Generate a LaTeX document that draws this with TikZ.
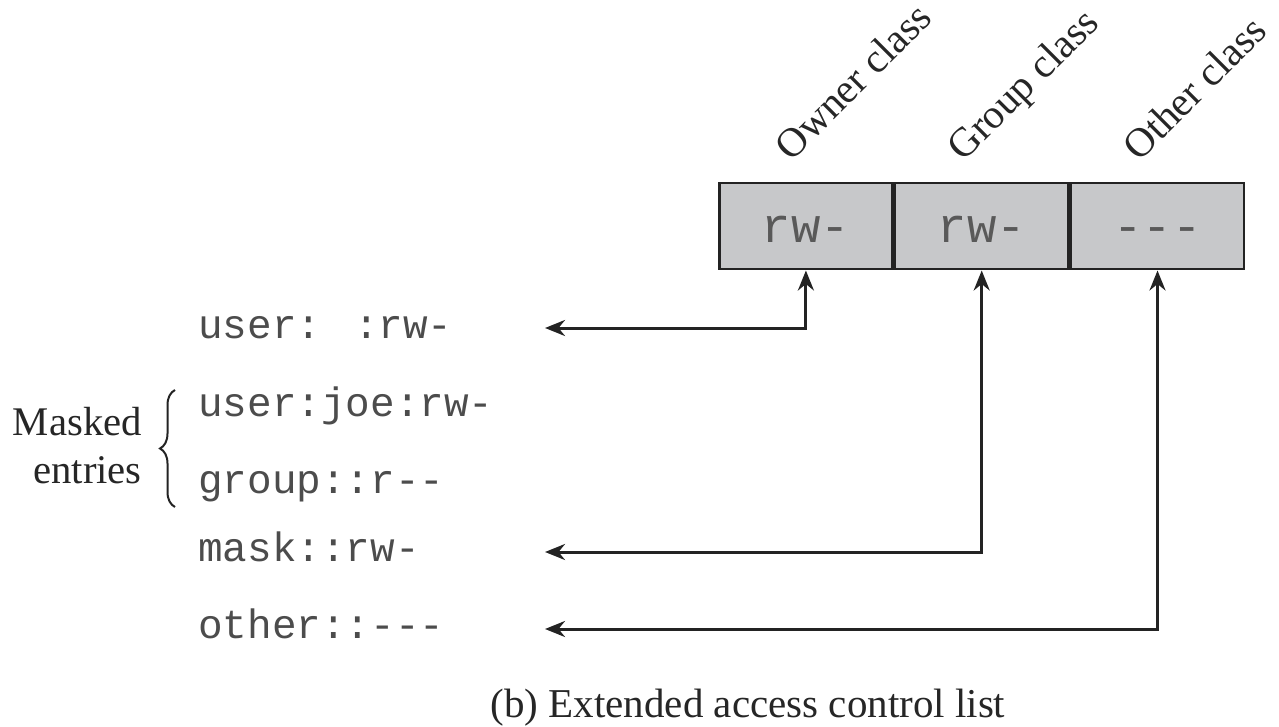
\documentclass[tikz,border=0pt]{standalone}
\usepackage{fontspec}
\setmainfont{Liberation Serif}
\newfontfamily\entryfont{Liberation Mono}
\usetikzlibrary{arrows.meta,decorations.pathreplacing}
\definecolor{boxgray}{RGB}{199,200,202}
\definecolor{ink}{RGB}{35,35,35}
\begin{document}
\begin{tikzpicture}[x=1pt,y=-1pt,
  cell/.style={draw=ink,line width=2.5pt,fill=boxgray,minimum width=173.3pt,
    minimum height=86pt,inner sep=0pt,anchor=north west,
    font=\entryfont\fontsize{49}{55}\selectfont,text=black!65,
    text height=32pt,text depth=0pt},
  entry/.style={anchor=base west,inner sep=0pt,text=black!70,
    font=\entryfont\fontsize{41}{48}\selectfont},
  serif/.style={inner sep=0pt,text=black!85,font=\fontsize{40.7}{46}\selectfont},
  classlbl/.style={anchor=base west,rotate=45,inner sep=0pt,text=black!85,
    font=\fontsize{41}{46}\selectfont},
  arr/.style={draw=ink,line width=3pt,{Stealth[length=20pt,width=16pt]}-{Stealth[length=20pt,width=16pt]}}
]
\useasboundingbox (0,0) rectangle (1279,727);
% permission cells
\node[cell] (oc) at (718,182) {rw-};
\node[cell] (gc) at (oc.north east) {rw-};
\node[cell] (tc) at (gc.north east) {-{}-{}-};
% class labels
\node[classlbl] (ol) at (791,163) {Owner class};
\node[classlbl] (gl) at (963,163) {Group class};
\node[classlbl] (tl) at (1139,163) {Other class};
% entries
\node[entry] (e1) at (198,338) {user: :rw-};
\node[entry] (e2) at (198,416) {user:joe:rw-};
\node[entry] (e3) at (198,493) {group::r-{}-};
\node[entry] (e4) at (198,561) {mask::rw-};
\node[entry] (e5) at (198,638) {other::-{}-{}-};
% masked entries label and brace
\node[serif,anchor=base east] (m1) at (142,435) {Masked};
\node[serif,anchor=base east] (m2) at (142,483) {entries};
\coordinate (bb) at (175,507);
\coordinate (bt) at (175,390);
\draw[ink,line width=2pt,decorate,decoration={brace,amplitude=15pt}] (bb) -- (bt);
% arrow ends
\coordinate (p1) at (545,328);
\coordinate (p4) at (545,552);
\coordinate (p5) at (545,629);
\draw[arr] (p1) -| (oc.south);
\draw[arr] (p4) -| (gc.south);
\draw[arr] (p5) -| (tc.south);
% caption
\node[inner sep=0pt,anchor=base,text=black!85,font=\fontsize{41}{48}\selectfont] (cap) at (748,717) {(b) Extended access control list};
\end{tikzpicture}
\end{document}
